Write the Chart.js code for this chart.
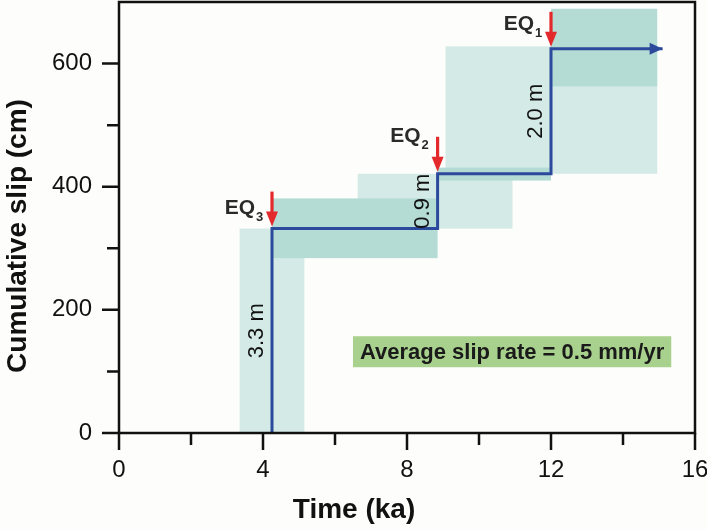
<!DOCTYPE html>
<html>
<head>
<meta charset="utf-8">
<script src="https://cdn.jsdelivr.net/npm/chart.js@4.4.1/dist/chart.umd.min.js"></script>
<style>
  html, body { margin: 0; padding: 0; background: #fdfdfb; }
  #wrap { width: 707px; height: 530px; }
</style>
</head>
<body>
<div id="wrap"><canvas id="myChart" width="707" height="530"></canvas></div>
<script>
// earthquakes, oldest first
const eqSubs = ['3', '2', '1'];
const eqTimes = [4.25, 8.85, 12.0];        // ka
const slipBefore = [0, 332, 421];          // cm
const slipAfter = [332, 421, 624];         // cm
const slipLabels = ['3.3 m', '0.9 m', '2.0 m'];
const endTime = 15.1;

// uncertainty boxes [from, to]
const timeBoxX = [[3.35, 5.15], [6.63, 10.93], [9.07, 14.95]];
const timeBoxY = [[0, 332], [332, 421], [421, 628]];
const slipBoxX = [[4.25, 8.85], [8.85, 12.0], [12.0, 14.95]];
const slipBoxY = [[284, 381], [410, 431], [563, 689]];

const xTicks = [0, 4, 8, 12, 16];
const xMinor = [2, 6, 10, 14];
const yTicks = [0, 200, 400, 600];
const yMinor = [100, 300, 500];

const rateText = 'Average slip rate = 0.5 mm/yr';
const rateAt = [10.92, 132];

const FONT = '"Liberation Sans", Arial, sans-serif';
const INK = '#111';

const steps = [];
eqTimes.forEach((t, i) => {
  steps.push({x: t, y: slipBefore[i]});
  steps.push({x: t, y: slipAfter[i]});
});
steps.push({x: endTime, y: slipAfter[slipAfter.length - 1]});

const eqLift = [15, 32, 19];

// no automatic edge padding for the tick labels
const noPad = s => { s.paddingTop = 0; s.paddingBottom = 0; s.paddingLeft = 0; s.paddingRight = 0; };

const decor = {
  id: 'decor',
  beforeDatasetsDraw(chart) {
    const {ctx, scales: {x, y}} = chart;
    ctx.save();
    const boxes = (bx, by, color) => {
      ctx.fillStyle = color;
      bx.forEach((r, i) => {
        const x0 = x.getPixelForValue(r[0]), x1 = x.getPixelForValue(r[1]);
        const y0 = y.getPixelForValue(by[i][1]), y1 = y.getPixelForValue(by[i][0]);
        ctx.fillRect(x0, y0, x1 - x0, y1 - y0);
      });
    };
    boxes(timeBoxX, timeBoxY, '#d3eae6');
    boxes(slipBoxX, slipBoxY, '#b4dcd5');
    ctx.restore();
  },
  afterDatasetsDraw(chart) {
    const {ctx, chartArea: a, scales: {x, y}} = chart;
    ctx.save();

    // arrow head on the slip line
    const last = steps[steps.length - 1];
    const tx = x.getPixelForValue(last.x), ty = y.getPixelForValue(last.y);
    ctx.fillStyle = '#2b4a9b';
    ctx.beginPath();
    ctx.moveTo(tx, ty);
    ctx.lineTo(tx - 13, ty - 6);
    ctx.lineTo(tx - 13, ty + 6);
    ctx.closePath();
    ctx.fill();

    eqTimes.forEach((t, i) => {
      const cx = x.getPixelForValue(t);
      const cy = y.getPixelForValue(slipAfter[i]);
      // red arrow
      ctx.fillStyle = '#e3292b';
      ctx.fillRect(cx - 1.6, cy - 37, 3.2, 21);
      ctx.beginPath();
      ctx.moveTo(cx - 6, cy - 17);
      ctx.lineTo(cx + 6, cy - 17);
      ctx.lineTo(cx, cy - 2);
      ctx.closePath();
      ctx.fill();
      // EQ label
      ctx.fillStyle = '#2a2a2a';
      ctx.textBaseline = 'alphabetic';
      ctx.textAlign = 'right';
      ctx.font = 'bold 21px ' + FONT;
      ctx.fillText('EQ', cx - 17, cy - eqLift[i]);
      ctx.textAlign = 'left';
      ctx.font = 'bold 13px ' + FONT;
      ctx.fillText(eqSubs[i], cx - 16, cy - eqLift[i] + 7);
      // slip amount
      const my = y.getPixelForValue((slipBefore[i] + slipAfter[i]) / 2);
      ctx.save();
      ctx.translate(cx - 15, my);
      ctx.rotate(-Math.PI / 2);
      ctx.fillStyle = INK;
      ctx.font = '22px ' + FONT;
      ctx.textAlign = 'center';
      ctx.textBaseline = 'middle';
      ctx.fillText(slipLabels[i], 0, 0);
      ctx.restore();
    });

    // slip rate box
    ctx.font = 'bold 22px ' + FONT;
    const w = ctx.measureText(rateText).width;
    const rx = x.getPixelForValue(rateAt[0]), ry = y.getPixelForValue(rateAt[1]);
    ctx.fillStyle = '#a9d18e';
    ctx.fillRect(rx - w / 2 - 7, ry - 15.5, w + 14, 31);
    ctx.fillStyle = '#1a1a1a';
    ctx.textAlign = 'center';
    ctx.textBaseline = 'middle';
    ctx.fillText(rateText, rx, ry + 1);

    // frame and tick marks
    ctx.strokeStyle = INK;
    ctx.lineWidth = 2.5;
    ctx.strokeRect(a.left, a.top, a.right - a.left, a.bottom - a.top);
    ctx.beginPath();
    xTicks.concat(xMinor).forEach(v => {
      const px = x.getPixelForValue(v);
      ctx.moveTo(px, a.bottom);
      ctx.lineTo(px, a.bottom + (xTicks.includes(v) ? 17 : 12));
    });
    yTicks.concat(yMinor).forEach(v => {
      const py = y.getPixelForValue(v);
      ctx.moveTo(a.left, py);
      ctx.lineTo(a.left - (yTicks.includes(v) ? 17 : 12), py);
    });
    ctx.stroke();

    // axis titles
    ctx.fillStyle = INK;
    ctx.font = 'bold 28px ' + FONT;
    ctx.textAlign = 'center';
    ctx.textBaseline = 'middle';
    ctx.fillText('Time (ka)', 354, 510);
    ctx.save();
    ctx.translate(18, 236);
    ctx.rotate(-Math.PI / 2);
    ctx.fillText('Cumulative slip (cm)', 0, 0);
    ctx.restore();

    ctx.restore();
  }
};

const config = {
  type: 'line',
  data: {
    datasets: [{
      label: 'Cumulative slip',
      data: steps,
      borderColor: '#2b4a9b',
      borderWidth: 3,
      pointRadius: 0,
      fill: false,
      tension: 0
    }]
  },
  options: {
    responsive: false,
    animation: false,
    devicePixelRatio: 1,
    layout: { padding: { top: 2, right: 12, left: 0, bottom: 0 } },
    plugins: { legend: { display: false }, tooltip: { enabled: false } },
    scales: {
      x: {
        type: 'linear',
        min: 0,
        max: 16,
        afterBuildTicks: s => { s.ticks = xTicks.map(v => ({value: v})); },
        afterFit: s => { s.height = 97; noPad(s); },
        grid: { display: false, drawTicks: true, tickLength: 17 },
        border: { display: false },
        ticks: { font: { size: 24, family: FONT }, color: INK, padding: 6, maxRotation: 0 }
      },
      y: {
        type: 'linear',
        min: 0,
        max: 700,
        afterBuildTicks: s => { s.ticks = yTicks.map(v => ({value: v})); },
        afterFit: s => { s.width = 119; noPad(s); },
        grid: { display: false, drawTicks: true, tickLength: 17 },
        border: { display: false },
        ticks: { font: { size: 24, family: FONT }, color: INK, padding: 10 }
      }
    }
  },
  plugins: [decor]
};

const myChart = new Chart(document.getElementById('myChart'), config);
</script>
</body>
</html>
